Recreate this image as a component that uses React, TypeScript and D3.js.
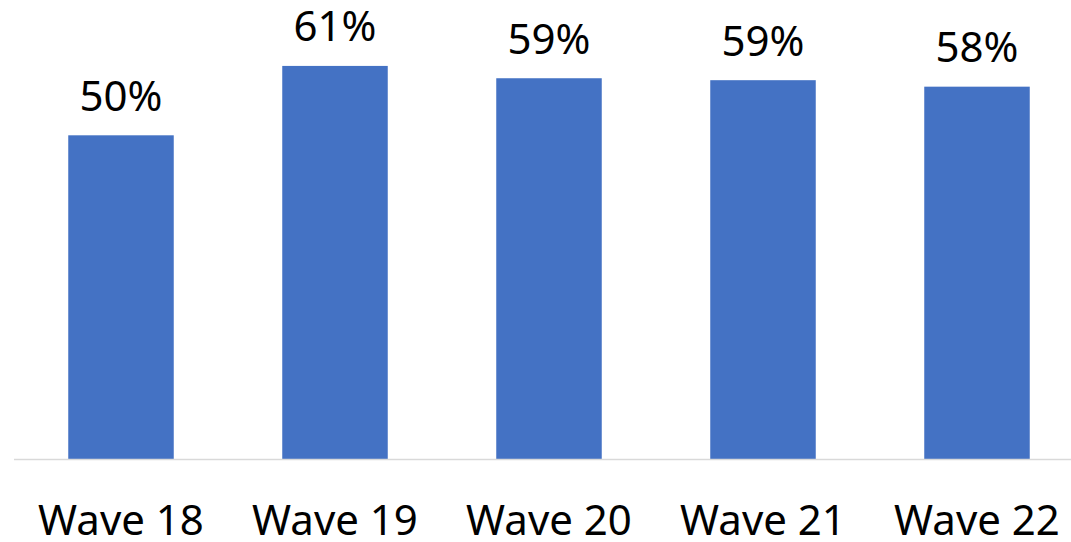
import React from "react";
import * as d3 from "d3";

const categories = ["Wave 18", "Wave 19", "Wave 20", "Wave 21", "Wave 22"];
const values = [50.0, 60.7, 58.8, 58.5, 57.5];
const valueLabels = ["50%", "61%", "59%", "59%", "58%"];

const W = 1071;
const H = 542;
const baseline = 459.5;
const left = 14;

export default function App() {
  React.useEffect(() => {
    document.body.style.margin = "0";
  }, []);

  const x = d3
    .scaleBand<string>()
    .domain(categories)
    .range([left, left + 214 * 5])
    .paddingInner(0.507)
    .paddingOuter(0.2535);

  const y = d3.scaleLinear().domain([0, 70]).range([baseline, baseline - 70 * 6.484]);

  const font = "'Noto Sans', 'Open Sans', sans-serif";

  return (
    <svg width={W} height={H} style={{ display: "block", background: "#fff" }}>
      {categories.map((c, i) => (
        <g key={c}>
          <rect
            x={x(c)!}
            y={y(values[i])}
            width={x.bandwidth()}
            height={baseline - y(values[i])}
            fill="#4472C4"
          />
          <text
            x={x(c)! + x.bandwidth() / 2}
            y={y(values[i]) - 24.5}
            textAnchor="middle"
            fontFamily={font}
            fontSize={42}
            fill="#000"
          >
            {valueLabels[i]}
          </text>
          <text
            x={x(c)! + x.bandwidth() / 2}
            y={535}
            textAnchor="middle"
            fontFamily={font}
            fontSize={42}
            fill="#000"
          >
            {c}
          </text>
        </g>
      ))}
      <line x1={left} x2={W} y1={baseline} y2={baseline} stroke="#d9d9d9" strokeWidth={1.5} />
    </svg>
  );
}
